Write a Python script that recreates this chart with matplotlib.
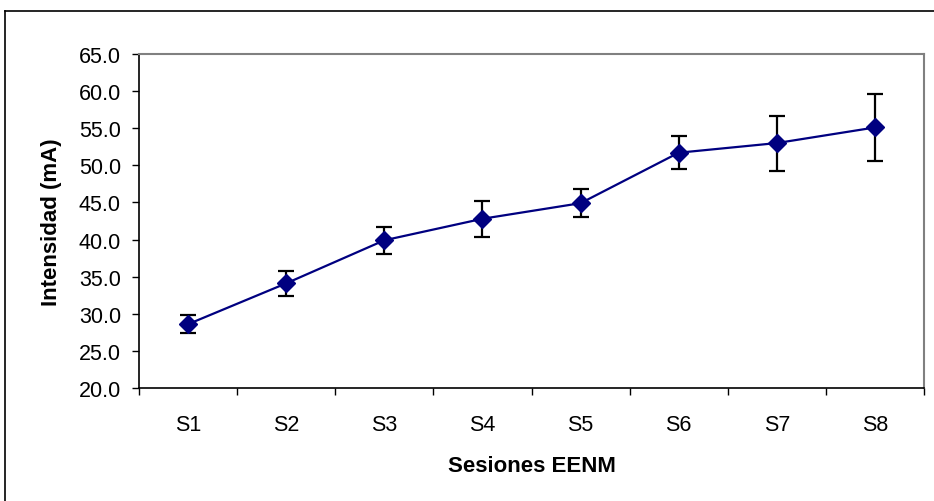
import numpy as np
import matplotlib.pyplot as plt
from matplotlib.lines import Line2D

plt.rcParams['font.family'] = ['Liberation Sans', 'DejaVu Sans']

sesiones = ["S1", "S2", "S3", "S4", "S5", "S6", "S7", "S8"]
intensidad = [28.6, 34.1, 39.9, 42.8, 44.9, 51.7, 53.0, 55.1]
error = [1.2, 1.7, 1.8, 2.4, 1.9, 2.2, 3.7, 4.5]

fig = plt.figure(figsize=(9.34, 5.02), dpi=100)
ax = fig.add_axes([139 / 934, 113 / 502, 785 / 934, 334 / 502])

x = np.arange(1, len(sesiones) + 1)
ax.errorbar(x, intensidad, yerr=error, fmt='none', ecolor='black',
            elinewidth=1.6, capsize=5.5, capthick=1.6, zorder=2)
ax.plot(x, intensidad, color='#000080', lw=1.6, marker='D', markersize=9,
        markerfacecolor='#000080', markeredgecolor='#000080', zorder=3)

ax.set_xlim(0.5, len(sesiones) + 0.5)
ax.set_ylim(20, 65)
ax.set_yticks(np.arange(20, 66, 5))
ax.set_yticklabels([f"{v:.1f}" for v in np.arange(20, 66, 5)])
ax.set_xticks(x)
ax.set_xticklabels(sesiones)
ax.set_xticks(np.arange(0.5, len(sesiones) + 1, 1), minor=True)
ax.tick_params(axis='x', which='major', length=0, pad=19, labelsize=15.5)
ax.tick_params(axis='x', which='minor', length=5, width=1, direction='out')
ax.tick_params(axis='y', length=5, width=1, direction='out', pad=8, labelsize=15.5)

for side in ['top', 'right']:
    ax.spines[side].set_color('#808080')
    ax.spines[side].set_linewidth(1.5)
for side in ['left', 'bottom']:
    ax.spines[side].set_color('black')
    ax.spines[side].set_linewidth(1.2)

ax.set_ylabel("Intensidad (mA)", fontsize=16, fontweight='bold', labelpad=12)
ax.set_xlabel("Sesiones EENM", fontsize=16, fontweight='bold', labelpad=14)

# outer chart border (cut off at right and bottom)
fig.add_artist(Line2D([5 / 934, 1], [1 - 12 / 502, 1 - 12 / 502],
                      transform=fig.transFigure, color='black', lw=1.2))
fig.add_artist(Line2D([5 / 934, 5 / 934], [0, 1 - 12 / 502],
                      transform=fig.transFigure, color='black', lw=1.2))

fig.savefig("out.png", dpi=100)
